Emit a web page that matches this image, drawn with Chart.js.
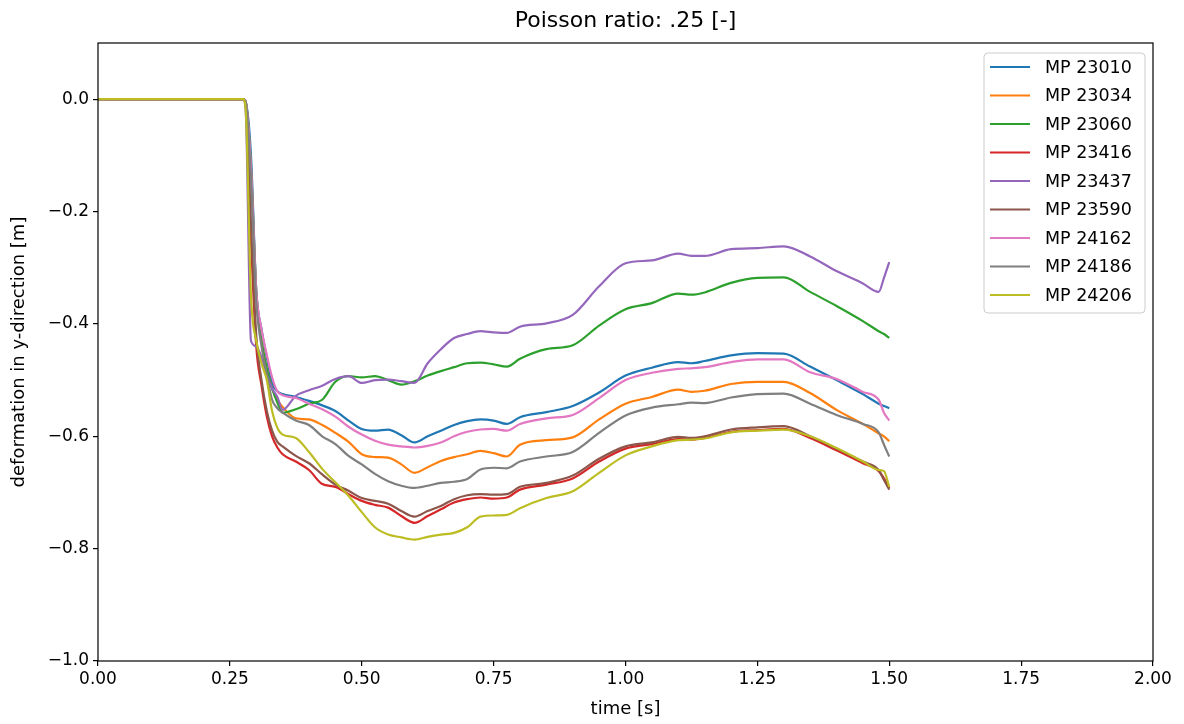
<!DOCTYPE html>
<html>
<head>
<meta charset="utf-8">
<script src="https://cdn.jsdelivr.net/npm/chart.js@4/dist/chart.umd.min.js"></script>
<style>
  html, body { margin: 0; padding: 0; background: #fff; }
  #wrap { width: 1184px; height: 724px; }
</style>
</head>
<body>
<div id="wrap"><canvas id="c" width="1184" height="724"></canvas></div>
<script>
// sample times [s]
const T = [0, 0.275, 0.28, 0.29, 0.30, 0.31, 0.32, 0.33, 0.34, 0.35,
  0.375, 0.40, 0.425, 0.45, 0.475, 0.50, 0.525, 0.55, 0.575, 0.60, 0.625, 0.65, 0.675, 0.70, 0.725, 0.75, 0.775, 0.80,
  0.85, 0.90, 0.95, 1.00, 1.05, 1.10,
  1.125, 1.15, 1.20, 1.25, 1.30, 1.35, 1.40, 1.45,
  1.48, 1.49, 1.50];

// deformation in y-direction [m] per measuring point
const mp23010 = [0, 0, -0.005, -0.10, -0.34, -0.41, -0.46, -0.505, -0.52, -0.525,
  -0.53, -0.537, -0.545, -0.555, -0.572, -0.587, -0.59, -0.588, -0.598, -0.611, -0.60, -0.59, -0.58, -0.573, -0.570, -0.572, -0.578, -0.566,
  -0.557, -0.546, -0.522, -0.492, -0.478, -0.468,
  -0.470, -0.466, -0.456, -0.452, -0.453, -0.476, -0.500, -0.525,
  -0.542, -0.546, -0.550];
const mp23034 = [0, 0, -0.005, -0.13, -0.35, -0.43, -0.48, -0.515, -0.535, -0.548,
  -0.568, -0.570, -0.580, -0.594, -0.610, -0.632, -0.637, -0.638, -0.650, -0.665, -0.655, -0.644, -0.637, -0.632, -0.626, -0.630, -0.636, -0.615,
  -0.607, -0.602, -0.570, -0.542, -0.530, -0.517,
  -0.521, -0.519, -0.507, -0.503, -0.503, -0.523, -0.553, -0.578,
  -0.595, -0.600, -0.609];
const mp23060 = [0, 0, -0.005, -0.12, -0.34, -0.43, -0.48, -0.515, -0.54, -0.558,
  -0.552, -0.542, -0.535, -0.503, -0.493, -0.495, -0.493, -0.500, -0.508, -0.502, -0.492, -0.484, -0.477, -0.470, -0.469, -0.472, -0.476, -0.462,
  -0.445, -0.438, -0.403, -0.374, -0.363, -0.346,
  -0.348, -0.344, -0.327, -0.318, -0.317, -0.343, -0.368, -0.395,
  -0.413, -0.418, -0.425];
const mp23416 = [0, 0, -0.01, -0.25, -0.44, -0.51, -0.565, -0.60, -0.62, -0.632,
  -0.645, -0.660, -0.685, -0.690, -0.703, -0.715, -0.722, -0.727, -0.742, -0.754, -0.742, -0.730, -0.718, -0.712, -0.709, -0.711, -0.709, -0.695,
  -0.686, -0.675, -0.645, -0.622, -0.614, -0.605,
  -0.606, -0.603, -0.592, -0.589, -0.587, -0.603, -0.625, -0.648,
  -0.662, -0.675, -0.692];
const mp23437 = [0, 0, -0.02, -0.43, -0.44, -0.46, -0.49, -0.515, -0.53, -0.553,
  -0.528, -0.518, -0.510, -0.498, -0.493, -0.505, -0.500, -0.499, -0.502, -0.505, -0.470, -0.445, -0.425, -0.418, -0.413, -0.415, -0.416, -0.405,
  -0.399, -0.384, -0.333, -0.292, -0.287, -0.275,
  -0.279, -0.279, -0.267, -0.265, -0.262, -0.280, -0.306, -0.328,
  -0.343, -0.318, -0.290];
const mp23590 = [0, 0, -0.01, -0.22, -0.42, -0.50, -0.555, -0.59, -0.61, -0.618,
  -0.635, -0.648, -0.668, -0.686, -0.697, -0.710, -0.715, -0.720, -0.733, -0.743, -0.733, -0.724, -0.712, -0.705, -0.703, -0.704, -0.703, -0.690,
  -0.683, -0.670, -0.640, -0.618, -0.611, -0.601,
  -0.603, -0.600, -0.588, -0.584, -0.582, -0.600, -0.622, -0.645,
  -0.660, -0.678, -0.695];
const mp24162 = [0, 0, -0.005, -0.12, -0.34, -0.41, -0.455, -0.495, -0.52, -0.527,
  -0.532, -0.542, -0.552, -0.565, -0.583, -0.597, -0.608, -0.615, -0.618, -0.620, -0.617, -0.611, -0.600, -0.592, -0.588, -0.587, -0.590, -0.578,
  -0.568, -0.562, -0.532, -0.500, -0.487, -0.480,
  -0.479, -0.477, -0.468, -0.463, -0.463, -0.486, -0.498, -0.521,
  -0.535, -0.558, -0.572];
const mp24186 = [0, 0, -0.005, -0.14, -0.36, -0.44, -0.49, -0.535, -0.55, -0.558,
  -0.572, -0.580, -0.600, -0.614, -0.635, -0.650, -0.667, -0.680, -0.688, -0.692, -0.688, -0.683, -0.681, -0.676, -0.659, -0.656, -0.657, -0.645,
  -0.636, -0.628, -0.594, -0.563, -0.549, -0.543,
  -0.540, -0.541, -0.531, -0.525, -0.524, -0.542, -0.562, -0.578,
  -0.593, -0.615, -0.636];
const mp24206 = [0, 0, -0.02, -0.35, -0.43, -0.47, -0.50, -0.555, -0.585, -0.597,
  -0.603, -0.628, -0.658, -0.682, -0.706, -0.735, -0.762, -0.775, -0.780, -0.784, -0.779, -0.775, -0.772, -0.762, -0.743, -0.741, -0.740, -0.728,
  -0.710, -0.698, -0.665, -0.634, -0.618, -0.607,
  -0.606, -0.604, -0.593, -0.590, -0.588, -0.600, -0.621, -0.645,
  -0.660, -0.662, -0.690];

const seriesNames = ['MP 23010', 'MP 23034', 'MP 23060', 'MP 23416', 'MP 23437', 'MP 23590', 'MP 24162', 'MP 24186', 'MP 24206'];
const seriesValues = [mp23010, mp23034, mp23060, mp23416, mp23437, mp23590, mp24162, mp24186, mp24206];
const seriesColors = ['#1f77b4', '#ff7f0e', '#2ca02c', '#d62728', '#9467bd', '#8c564b', '#e377c2', '#7f7f7f', '#bcbd22'];

const xTicks = [0, 0.25, 0.5, 0.75, 1.0, 1.25, 1.5, 1.75, 2.0];
const yTicks = [-1.0, -0.8, -0.6, -0.4, -0.2, 0.0];

const FONT = "'DejaVu Sans', 'Liberation Sans', sans-serif";
const MINUS = '\u2212';

// axes frame drawn on all four sides
const framePlugin = {
  id: 'frame',
  afterDatasetsDraw(chart) {
    const { ctx, chartArea: a } = chart;
    ctx.save();
    ctx.strokeStyle = '#000';
    ctx.lineWidth = 1.2;
    ctx.strokeRect(a.left, a.top, a.right - a.left, a.bottom - a.top);
    ctx.restore();
  }
};

// legend box in the upper right corner of the plot area
const insetLegend = {
  id: 'insetLegend',
  afterDraw(chart) {
    const { ctx, chartArea: a } = chart;
    const ds = chart.data.datasets;
    const w = 161, rowH = 28.5;
    const h = 260;
    const x0 = a.right - 8 - w, y0 = a.top + 10;
    ctx.save();
    ctx.fillStyle = 'rgba(255,255,255,0.8)';
    ctx.strokeStyle = '#cccccc';
    ctx.lineWidth = 1;
    const r = 4;
    ctx.beginPath();
    ctx.moveTo(x0 + r, y0);
    ctx.lineTo(x0 + w - r, y0);
    ctx.arcTo(x0 + w, y0, x0 + w, y0 + r, r);
    ctx.lineTo(x0 + w, y0 + h - r);
    ctx.arcTo(x0 + w, y0 + h, x0 + w - r, y0 + h, r);
    ctx.lineTo(x0 + r, y0 + h);
    ctx.arcTo(x0, y0 + h, x0, y0 + h - r, r);
    ctx.lineTo(x0, y0 + r);
    ctx.arcTo(x0, y0, x0 + r, y0, r);
    ctx.closePath();
    ctx.fill();
    ctx.stroke();
    ctx.font = '17.5px ' + FONT;
    ctx.textBaseline = 'middle';
    ctx.textAlign = 'left';
    ds.forEach((d, i) => {
      const y = y0 + 14 + i * rowH;
      ctx.strokeStyle = d.borderColor;
      ctx.lineWidth = 2.2;
      ctx.beginPath();
      ctx.moveTo(x0 + 6, y);
      ctx.lineTo(x0 + 46, y);
      ctx.stroke();
      ctx.fillStyle = '#000';
      ctx.fillText(d.label, x0 + 61, y + 1);
    });
    ctx.restore();
  }
};

const datasets = seriesNames.map((name, i) => ({
  label: name,
  data: T.map((t, k) => ({ x: t, y: seriesValues[i][k] })),
  borderColor: seriesColors[i],
  backgroundColor: seriesColors[i],
  borderWidth: 2.2,
  pointRadius: 0,
  cubicInterpolationMode: 'monotone',
  fill: false,
  order: seriesNames.length - i
}));

new Chart(document.getElementById('c'), {
  type: 'line',
  data: { datasets },
  options: {
    responsive: false,
    animation: false,
    events: [],
    layout: { padding: { left: 0, right: 31, top: 0, bottom: 0 } },
    plugins: {
      legend: { display: false },
      tooltip: { enabled: false },
      title: {
        display: true,
        text: 'Poisson ratio: .25 [-]',
        fullSize: false,
        color: '#000',
        font: { family: FONT, size: 22, weight: 'normal', lineHeight: 1.2 },
        padding: { top: 8, bottom: 8.6 }
      }
    },
    scales: {
      x: {
        type: 'linear',
        min: 0,
        max: 2,
        afterBuildTicks(s) { s.ticks = xTicks.map(v => ({ value: v })); },
        afterFit(s) { s.height = 63; },
        ticks: {
          autoSkip: false,
          maxRotation: 0,
          color: '#000',
          padding: 3,
          font: { family: FONT, size: 17 },
          callback: v => v.toFixed(2)
        },
        grid: { display: true, drawOnChartArea: false, drawTicks: true, tickLength: 5, color: '#000', lineWidth: 1.2 },
        border: { display: false },
        title: {
          display: true,
          text: 'time [s]',
          color: '#000',
          font: { family: FONT, size: 18 },
          padding: { top: 0, bottom: 4 }
        }
      },
      y: {
        type: 'linear',
        min: -1.0,
        max: 0.1,
        afterBuildTicks(s) { s.ticks = yTicks.map(v => ({ value: v })); },
        afterFit(s) { s.width = 98; },
        ticks: {
          color: '#000',
          padding: 4,
          font: { family: FONT, size: 17 },
          callback: v => (v < -1e-9 ? MINUS : '') + Math.abs(v).toFixed(1)
        },
        grid: { display: true, drawOnChartArea: false, drawTicks: true, tickLength: 5, color: '#000', lineWidth: 1.2 },
        border: { display: false },
        title: {
          display: true,
          text: 'deformation in y-direction [m]',
          color: '#000',
          font: { family: FONT, size: 18 },
          padding: { top: 9, bottom: 0 }
        }
      }
    }
  },
  plugins: [framePlugin, insetLegend]
});
</script>
</body>
</html>
